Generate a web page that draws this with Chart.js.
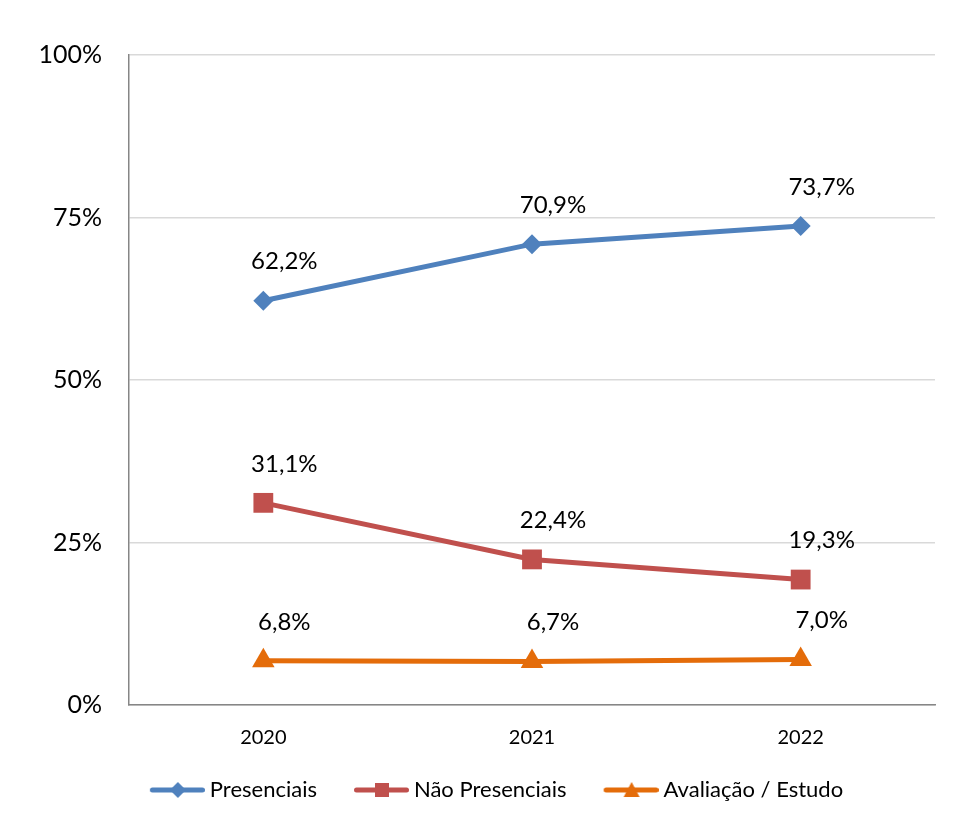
<!DOCTYPE html>
<html>
<head>
<meta charset="utf-8">
<script src="https://cdn.jsdelivr.net/npm/chart.js@4"></script>
<style>
  body { margin: 0; background: #fff; }
  canvas { display: block; }
</style>
</head>
<body>
<canvas id="chart" width="960" height="823"></canvas>
<script>
// Data
const years = ["2020", "2021", "2022"];
const presenciais = [62.2, 70.9, 73.7];
const naoPresenciais = [31.1, 22.4, 19.3];
const avaliacao = [6.8, 6.7, 7.0];
const yTicks = [0, 25, 50, 75, 100];

const FONT = "Lato, 'Open Sans', sans-serif";

// Legend icon: line with the marker in the middle
function makeIcon(color, style) {
  const c = document.createElement("canvas");
  c.width = 61;
  c.height = 22;
  const g = c.getContext("2d");
  g.strokeStyle = color;
  g.fillStyle = color;
  g.lineWidth = 5;
  g.lineCap = "round";
  g.beginPath();
  g.moveTo(8.5, 11);
  g.lineTo(58.5, 11);
  g.stroke();
  const cx = 34, cy = 11;
  g.beginPath();
  if (style === "diamond") {
    g.moveTo(cx - 8, cy); g.lineTo(cx, cy - 8); g.lineTo(cx + 8, cy); g.lineTo(cx, cy + 8);
  } else if (style === "square") {
    g.rect(cx - 7, cy - 7, 14, 14);
  } else {
    g.moveTo(cx, cy - 8); g.lineTo(cx + 8, cy + 7); g.lineTo(cx - 8, cy + 7);
  }
  g.closePath();
  g.fill();
  return c;
}

// Data labels drawn above each point
const valueLabels = {
  id: "valueLabels",
  afterDatasetsDraw(chart) {
    const ctx = chart.ctx;
    ctx.save();
    ctx.font = "24px " + FONT;
    ctx.fillStyle = "#000";
    ctx.textAlign = "center";
    ctx.textBaseline = "middle";
    chart.data.datasets.forEach((ds, i) => {
      chart.getDatasetMeta(i).data.forEach((pt, j) => {
        const txt = ds.data[j].toFixed(1).replace(".", ",") + "%";
        ctx.fillText(txt, pt.x + 21, pt.y - 39);
      });
    });
    ctx.restore();
  },
};

// nudge the legend a bit up and to the right, like the original
const legendShift = {
  id: "legendShift",
  afterLayout(chart) {
    chart.legend.top -= 18;
    chart.legend.bottom -= 18;
    chart.legend.left += 58;
  },
};

const icons = [
  makeIcon("#4F81BD", "diamond"),
  makeIcon("#C0504D", "square"),
  makeIcon("#E46C0A", "triangle"),
];

const chart = new Chart(document.getElementById("chart"), {
  type: "line",
  data: {
    labels: years,
    datasets: [
      {
        label: "Presenciais",
        data: presenciais,
        borderColor: "#4F81BD",
        backgroundColor: "#4F81BD",
        pointStyle: "rectRot",
        pointRadius: 10,
      },
      {
        label: "Não Presenciais",
        data: naoPresenciais,
        borderColor: "#C0504D",
        backgroundColor: "#C0504D",
        pointStyle: "rect",
        pointRadius: 14,
      },
      {
        label: "Avaliação / Estudo",
        data: avaliacao,
        borderColor: "#E46C0A",
        backgroundColor: "#E46C0A",
        pointStyle: "triangle",
        pointRadius: 13,
      },
    ],
  },
  options: {
    responsive: false,
    animation: false,
    layout: { padding: { top: 55, right: 25, left: 0, bottom: 0 } },
    elements: {
      line: { borderWidth: 5, tension: 0 },
      point: { borderWidth: 0, hoverRadius: 10 },
    },
    scales: {
      x: {
        offset: true,
        afterFit(scale) { scale.height = 55; },
        grid: { display: false, drawTicks: false },
        border: { display: true, color: "#868686", width: 1.5 },
        ticks: { color: "#000", font: { family: FONT, size: 20 }, padding: 21 },
      },
      y: {
        min: 0,
        max: 100,
        afterFit(scale) { scale.width = 129; },
        afterBuildTicks(scale) { scale.ticks = yTicks.map((v) => ({ value: v })); },
        grid: { color: "#d9d9d9", lineWidth: 1.5, drawTicks: false },
        border: { display: true, color: "#868686", width: 1.5 },
        ticks: {
          color: "#000",
          font: { family: FONT, size: 25 },
          padding: 27,
          callback: (v) => v + "%",
        },
      },
    },
    plugins: {
      tooltip: { enabled: false },
      legend: {
        position: "bottom",
        maxHeight: 63,
        labels: {
          color: "#000",
          font: { family: FONT, size: 22 },
          usePointStyle: true,
          pointStyleWidth: 49,
          padding: 37,
          generateLabels(chart) {
            return chart.data.datasets.map((ds, i) => ({
              text: ds.label,
              pointStyle: icons[i],
              fillStyle: ds.borderColor,
              strokeStyle: ds.borderColor,
              lineWidth: 0,
              fontColor: "#000",
              hidden: false,
              datasetIndex: i,
            }));
          },
        },
      },
    },
  },
  plugins: [valueLabels, legendShift],
});
</script>
</body>
</html>
